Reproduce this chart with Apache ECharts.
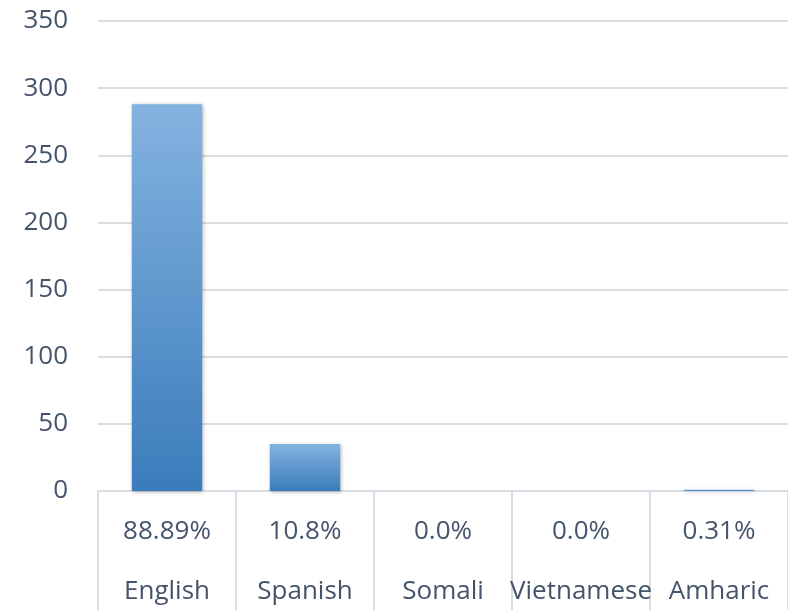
<!DOCTYPE html>
<html>
<head>
<meta charset="utf-8">
<script src="https://cdn.jsdelivr.net/npm/echarts@6/dist/echarts.min.js"></script>
<style>
  html, body { margin: 0; padding: 0; background: #fff; }
  #chart { width: 788px; height: 610px; }
</style>
</head>
<body>
<div id="chart"></div>
<script>
  // data
  const languages = ['English', 'Spanish', 'Somali', 'Vietnamese', 'Amharic'];
  const counts = [288, 35, 0, 0, 1];
  const shares = ['88.89%', '10.8%', '0.0%', '0.0%', '0.31%'];
  const yTicks = [0, 50, 100, 150, 200, 250, 300, 350];

  const chart = echarts.init(document.getElementById('chart'));
  const textColor = '#44546a';
  const lineColor = '#d9dee5';

  const option = {
    animation: false,
    grid: { left: 98, right: 0, top: 21, bottom: 119 },
    xAxis: {
      type: 'category',
      data: languages,
      axisLine: { lineStyle: { color: lineColor, width: 2 } },
      axisTick: { show: true, length: 120, lineStyle: { color: lineColor, width: 2 } },
      axisLabel: {
        margin: 11,
        interval: 0,
        formatter: function (value, idx) {
          return '{p|' + shares[idx] + '}\n{n|' + value + '}';
        },
        rich: {
          p: { fontFamily: 'Open Sans', fontSize: 26, color: textColor, lineHeight: 60 },
          n: { fontFamily: 'Open Sans', fontSize: 26, color: textColor, lineHeight: 60 }
        }
      }
    },
    yAxis: {
      type: 'value',
      min: yTicks[0],
      max: yTicks[yTicks.length - 1],
      interval: 50,
      axisLine: { show: false },
      axisTick: { show: false },
      axisLabel: { margin: 30, fontFamily: 'Open Sans', fontSize: 26, color: textColor },
      splitLine: { lineStyle: { color: lineColor, width: 2 } }
    },
    series: [{
      type: 'bar',
      data: counts,
      barWidth: '51%',
      itemStyle: {
        color: new echarts.graphic.LinearGradient(0, 0, 0, 1, [
          { offset: 0, color: '#84b3e0' },
          { offset: 1, color: '#3a7cbb' }
        ]),
        shadowBlur: 4,
        shadowColor: 'rgba(0,0,0,0.3)',
        shadowOffsetX: 1,
        shadowOffsetY: 1
      }
    }]
  };

  chart.setOption(option);
</script>
</body>
</html>
